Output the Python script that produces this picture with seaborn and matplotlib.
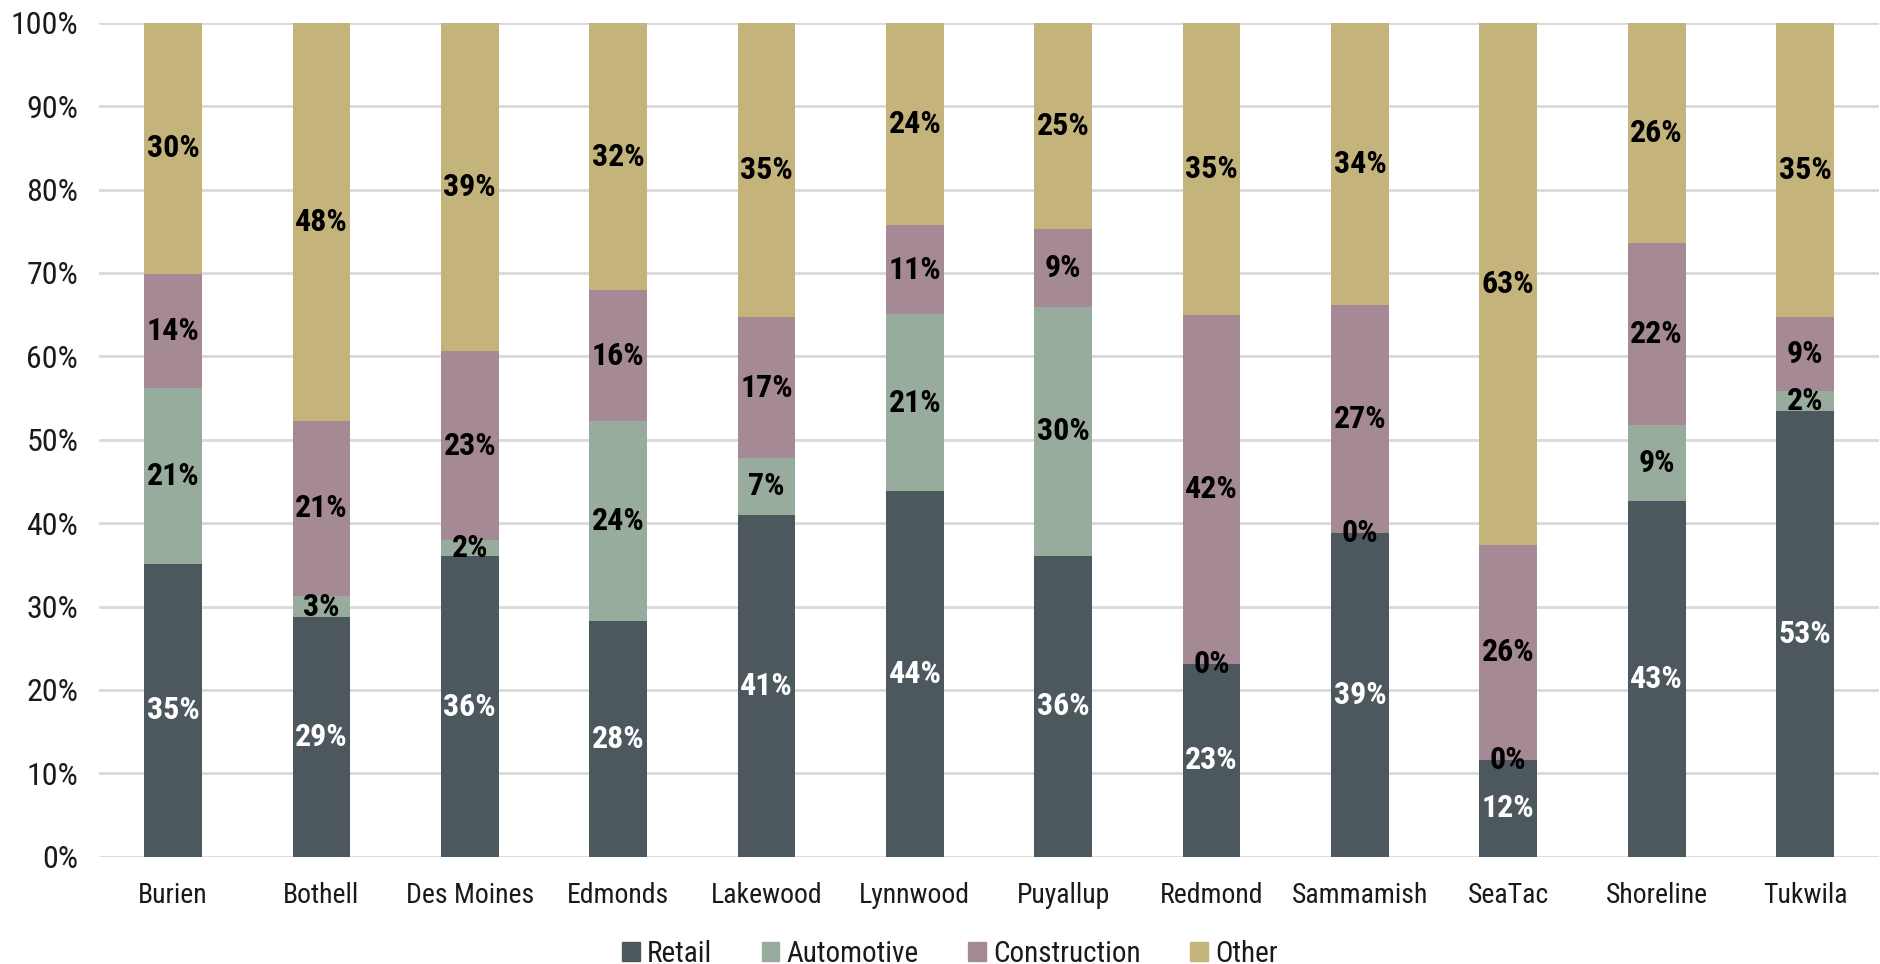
import numpy as np
import pandas as pd
import matplotlib
matplotlib.use("Agg")
import matplotlib.pyplot as plt
from matplotlib import font_manager
import seaborn as sns

# Share of sales by sector for each city (percent of total)
cities = ["Burien", "Bothell", "Des Moines", "Edmonds", "Lakewood", "Lynnwood",
          "Puyallup", "Redmond", "Sammamish", "SeaTac", "Shoreline", "Tukwila"]
retail = [35.1, 28.7, 36.0, 28.3, 41.0, 43.8, 36.1, 23.1, 38.8, 11.6, 42.6, 53.4]
automotive = [21.1, 2.6, 2.0, 23.9, 6.8, 21.3, 29.8, 0.0, 0.0, 0.0, 9.2, 2.4]
construction = [13.7, 21.0, 22.6, 15.7, 16.9, 10.6, 9.4, 41.9, 27.4, 25.8, 21.8, 8.9]
other = [30.1, 47.7, 39.4, 32.1, 35.3, 24.3, 24.7, 35.0, 33.8, 62.6, 26.4, 35.3]

sectors = ["Retail", "Automotive", "Construction", "Other"]
colors = {"Retail": "#4d575e", "Automotive": "#97ac9d",
          "Construction": "#a58a95", "Other": "#c4b47c"}
label_colors = {"Retail": "white", "Automotive": "black",
                "Construction": "black", "Other": "black"}

sns.set_theme(style="white")

# pick a narrow sans-serif face
available = {f.name for f in font_manager.fontManager.ttflist}
preferred = ["Liberation Sans Narrow", "Arial Narrow", "Roboto Condensed",
             "Archivo Narrow", "PT Sans Narrow", "IBM Plex Sans Condensed",
             "Fira Sans Condensed", "Open Sans Condensed", "Sofia Sans Semi Condensed"]
narrow = next((f for f in preferred if f in available), "Liberation Sans")
plt.rcParams["font.family"] = [narrow, "DejaVu Sans"]

df = pd.DataFrame({"City": cities, "Retail": retail, "Automotive": automotive,
                   "Construction": construction, "Other": other})
totals = df[sectors].sum(axis=1)
for s in sectors:
    df[s] = df[s] / totals * 100

# cumulative tops of each stacked segment
cum = df[sectors].cumsum(axis=1)

fig, ax = plt.subplots(figsize=(18.81, 9.64), dpi=100)
fig.subplots_adjust(left=0.0526, right=0.999, top=0.9764, bottom=0.1113)

# draw the tallest (cumulative) layer first so lower layers sit on top
for s in reversed(sectors):
    sns.barplot(x=df["City"], y=cum[s], color=colors[s], width=0.39,
                saturation=1, ax=ax, linewidth=0, zorder=2)

# segment labels
for i in range(len(df)):
    for s in sectors:
        v = df.loc[i, s]
        mid = cum.loc[i, s] - v / 2
        ax.text(i, mid, f"{v:.0f}%", ha="center", va="center",
                fontsize=23, fontweight="bold", color=label_colors[s], zorder=5)

ax.set_xlim(-0.5, len(cities) - 0.5)
ax.set_ylim(0, 100)
ax.set_yticks(np.arange(0, 101, 10))
ax.set_yticklabels([f"{t}%" for t in range(0, 101, 10)])
ax.set_xlabel("")
ax.set_ylabel("")
ax.yaxis.grid(True, color="#d9d9d9", linewidth=2)
ax.set_axisbelow(True)
for sp in ax.spines.values():
    sp.set_visible(False)
ax.tick_params(axis="y", length=0, pad=15, labelsize=23, labelcolor="#1a1a1a")
ax.tick_params(axis="x", length=0, pad=18, labelsize=20, labelcolor="#1a1a1a")

handles = [plt.Rectangle((0, 0), 1, 1, color=colors[s]) for s in sectors]
fig.legend(handles, sectors, loc="lower center", ncol=4, frameon=False,
           bbox_to_anchor=(0.505, -0.031), fontsize=21, handlelength=0.6,
           handleheight=0.6, handletextpad=0.25, columnspacing=1.7,
           labelcolor="#1a1a1a")

fig.savefig("out.png", dpi=100)
